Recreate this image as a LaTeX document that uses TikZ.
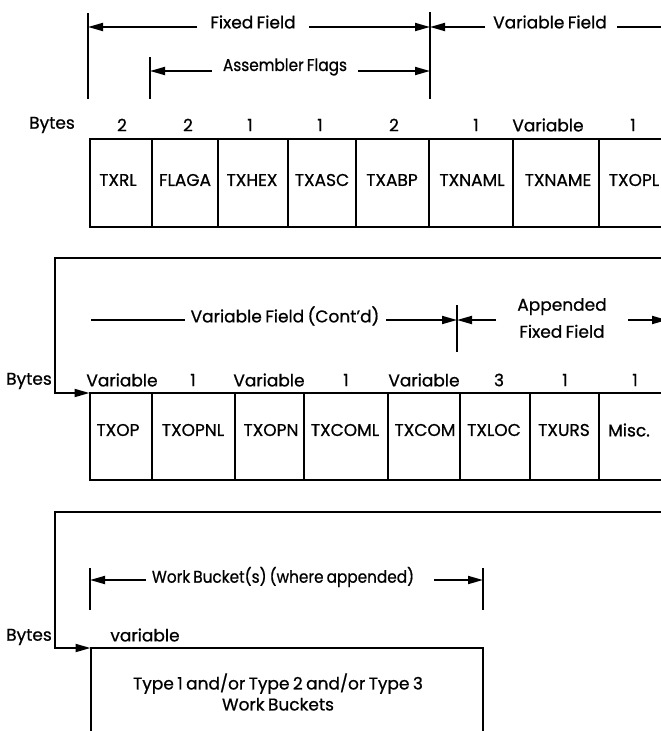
\documentclass[tikz,border=0pt]{standalone}
\usepackage{fontspec}
\setmainfont{Poppins}[FakeBold=0.8, WordSpace=0.75]
\usetikzlibrary{arrows.meta}
\begin{document}
\begin{tikzpicture}[x=1pt,y=-1pt,
  every node/.style={inner sep=0pt, outer sep=0pt},
  txt/.style={font=\fontsize{17}{22}\selectfont, align=center},
  ln/.style={line width=1.8pt},
  tick/.style={line width=2pt},
  tip/.style={ln,-{Triangle[length=15pt,width=8pt]}},
  cellA/.style={draw, line width=2pt, minimum height=88pt, minimum width=#1},
  cellB/.style={draw, line width=2pt, minimum height=87pt, minimum width=#1},
  boxline/.style={line width=2pt}
]
\useasboundingbox (0,0) rectangle (661,731);
\clip (0,0) rectangle (661,731);

% ---------- top dimension lines ----------
\coordinate (t1a) at (88,13);  \coordinate (t1b) at (88,99);
\coordinate (t2a) at (150,57); \coordinate (t2b) at (150,99);
\coordinate (t3a) at (430,12); \coordinate (t3b) at (430,99);
\draw[tick] (t1a) -- (t1b);
\draw[tick] (t2a) -- (t2b);
\draw[tick] (t3a) -- (t3b);

\node[txt] (ff) at (253,22) {Fixed Field};
\coordinate (ffL) at (88,27); \coordinate (ffR) at (430,27);
\draw[tip] (197,27) coordinate (ffa) -- (ffL);
\draw[tip] (309,27) coordinate (ffb) -- (ffR);

\node[txt] (af) at (285,67) {\scalebox{0.9}[1]{Assembler Flags}};
\coordinate (afL) at (150,71); \coordinate (afR) at (430,71);
\draw[tip] (212,71) coordinate (afa) -- (afL);
\draw[tip] (358,71) coordinate (afb) -- (afR);

\node[txt] (vf) at (550,22) {Variable Field};
\draw[tip] (485,27) coordinate (vfa) -- (ffR);
\draw[ln] (617,27) coordinate (vfb) -- (662,27) coordinate (vfc);

% ---------- row 1 ----------
\node[txt] (by1) at (52,125) {Bytes};
\node[txt] (n11) at (122,125) {2};
\node[txt] (n12) at (188,125) {2};
\node[txt] (n13) at (250,125) {1};
\node[txt] (n14) at (320,125) {1};
\node[txt] (n15) at (394,125) {2};
\node[txt] (n16) at (476,125) {1};
\node[txt] (n17) at (548,125) {Variable};
\node[txt] (n18) at (633,125) {1};

\node[cellA=62pt] (a1) at (121,183) {};
\node[cellA=66pt] (a2) at (185,183) {};
\node[cellA=70pt] (a3) at (253,183) {};
\node[cellA=68pt] (a4) at (322,183) {};
\node[cellA=73pt] (a5) at (392.5,183) {};
\node[cellA=84pt] (a6) at (471,183) {};
\node[cellA=86pt] (a7) at (556,183) {};
\node[cellA=66pt] (a8) at (632,183) {};

\node[txt] (la1) at (118,180) {TXRL};
\node[txt] (la2) at (185,180) {FLAGA};
\node[txt] (la3) at (252,180) {TXHEX};
\node[txt] (la4) at (322,180) {TXASC};
\node[txt] (la5) at (392,180) {TXABP};
\node[txt] (la6) at (472,180) {TXNAML};
\node[txt] (la7) at (558,180) {TXNAME};
\node[txt] (la8) at (634,180) {TXOPL};

% ---------- second section ----------
\coordinate (b2s) at (662,258);
\coordinate (b2c) at (55,393);
\draw[tip] (b2s) -| (b2c) -- (89.5,393);

\node[txt] (vc) at (285,316) {Variable Field (Cont'd)};
\coordinate (vcL) at (91,320);
\draw[ln] (vcL) -- (185,320) coordinate (vca);
\coordinate (t4a) at (457,305); \coordinate (t4b) at (457,352);
\coordinate (t4m) at (457,320);
\draw[tick] (t4a) -- (t4b);
\draw[tip] (386,320) coordinate (vcb) -- (t4m);
\draw[tip] (496,320) coordinate (apa) -- (t4m);
\node[txt] (ap) at (562,318) {Appended\\[5pt]Fixed Field};
\draw[tip] (628,320) coordinate (apb) -- (667,320) coordinate (apc);

\node[txt] (by2) at (29,381) {Bytes};
\node[txt] (n21) at (122,380) {Variable};
\node[txt] (n22) at (193,380) {1};
\node[txt] (n23) at (269,380) {Variable};
\node[txt] (n24) at (346,380) {1};
\node[txt] (n25) at (424,380) {Variable};
\node[txt] (n26) at (499,380) {3};
\node[txt] (n27) at (565,380) {1};
\node[txt] (n28) at (635,380) {1};

\node[cellB=62pt] (b1) at (121,436.5) {};
\node[cellB=83pt] (b2) at (193.5,436.5) {};
\node[cellB=69pt] (b3) at (269.5,436.5) {};
\node[cellB=84pt] (b4) at (346,436.5) {};
\node[cellB=72pt] (b5) at (424,436.5) {};
\node[cellB=70pt] (b6) at (495,436.5) {};
\node[cellB=69pt] (b7) at (564.5,436.5) {};
\node[cellB=66pt] (b8) at (632,436.5) {};

\node[txt] (lb1) at (118,430) {TXOP};
\node[txt] (lb2) at (193,430) {TXOPNL};
\node[txt] (lb3) at (271,430) {TXOPN};
\node[txt] (lb4) at (345,430) {TXCOML};
\node[txt] (lb5) at (425,430) {TXCOM};
\node[txt] (lb6) at (494,430) {TXLOC};
\node[txt] (lb7) at (564,430) {TXURS};
\node[txt] (lb8) at (629,430) {Misc.};

% ---------- third section ----------
\coordinate (b3s) at (662,512);
\coordinate (b3c) at (55,648);
\coordinate (wbTL) at (91,648);
\coordinate (wbTR) at (483,648);
\coordinate (wbBL) at (91,740);
\coordinate (wbBR) at (483,740);
\draw[tip] (b3s) -| (b3c) -- (90.5,648);

\coordinate (t5a) at (90,568); \coordinate (t5b) at (90,610);
\coordinate (t6a) at (483,568); \coordinate (t6b) at (483,610);
\draw[tick] (t5a) -- (t5b);
\draw[tick] (t6a) -- (t6b);
\node[txt] (wb) at (283,577) {\scalebox{0.9}[1]{Work Bucket(s) (where appended)}};
\draw[tip] (146,580) coordinate (wba) -- (90,580) coordinate (wbL);
\draw[tip] (434,580) coordinate (wbb) -- (483,580) coordinate (wbR);

\node[txt] (by3) at (29,637) {Bytes};
\node[txt] (n31) at (145,635) {variable};
\draw[boxline] (wbBL) -- (wbTL) -- (wbTR) -- (wbBR);
\node[txt, font=\fontsize{17}{21}\selectfont] (ty) at (278,692) {Type 1 and/or Type 2 and/or Type 3\\Work Buckets};
\end{tikzpicture}
\end{document}
